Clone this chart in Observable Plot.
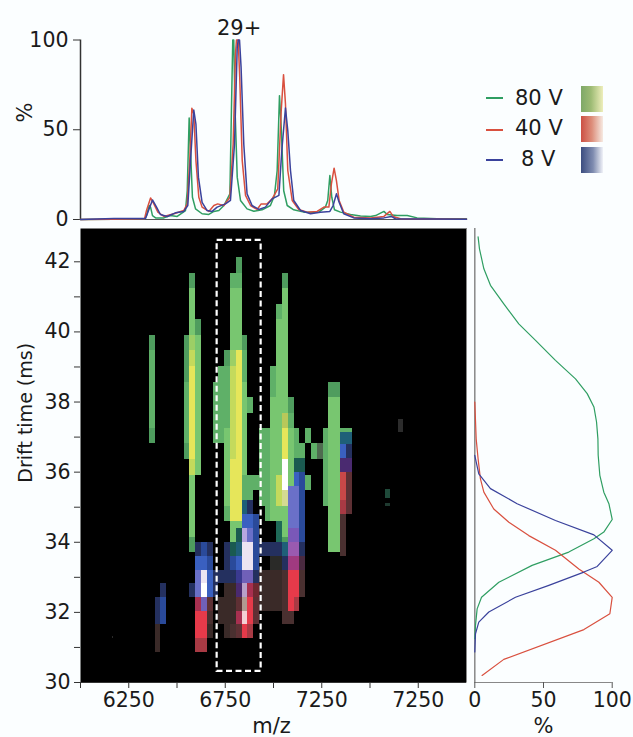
<!DOCTYPE html>
<html>
<head>
<meta charset="utf-8">
<script src="https://cdn.jsdelivr.net/npm/d3@7"></script>
<script src="https://cdn.jsdelivr.net/npm/@observablehq/plot@0.6"></script>
<style>
html,body{margin:0;padding:0;background:#fbfeff;}
#fig{position:relative;width:633px;height:737px;overflow:hidden;font-family:"DejaVu Sans",sans-serif;color:#1a1a1a;}
#fig svg{position:absolute;overflow:visible;}
.lg{position:absolute;font-size:21px;line-height:24px;white-space:nowrap;}
.ln{position:absolute;height:2px;width:17px;}
.sw{position:absolute;width:22px;height:26px;}
</style>
</head>
<body>
<div id="fig"></div>
<script>
// Spectrum traces: [m/z, %]
const spectrum80 = [[6000,0],[6173,.2],[6294,.4],[6332,.4],[6342,2.2],[6356,7.8],[6363,6.9],[6373,2.2],[6389,.9],[6432,.9],[6466,2.2],[6501,1.7],[6544,5],[6553,16],[6563,56.6],[6570,38.4],[6580,12.4],[6596,5.9],[6630,3.2],[6665,2.8],[6691,4.5],[6717,5],[6743,7.8],[6774,14.3],[6782,60.7],[6789,100],[6794,100],[6801,60.7],[6812,23.6],[6829,10.6],[6863,5.9],[6898,4.6],[6941,5.4],[6984,7.8],[7005,13.4],[7019,27.3],[7031,69],[7040,51.4],[7053,16],[7071,7.8],[7105,5.4],[7157,4.1],[7192,4.1],[7235,4.1],[7269,6.9],[7281,10.6],[7292,24.5],[7302,12.4],[7316,5.4],[7347,4.1],[7399,2.8],[7451,2],[7503,1.7],[7529,2.2],[7572,4.5],[7589,2.8],[7641,2.2],[7693,2.2],[7744,.9],[7848,.4],[8000,.4]];
const spectrum40 = [[6000,0],[6173,.2],[6332,.4],[6342,5],[6363,12],[6380,8.7],[6401,4.1],[6432,1.7],[6484,3.2],[6535,5],[6553,8.7],[6566,32.8],[6577,62],[6587,58.8],[6598,32.8],[6613,12.4],[6630,6.9],[6665,4.5],[6691,7.8],[6711,8.7],[6743,7.8],[6774,12.4],[6791,42.1],[6803,92.2],[6808,100],[6817,100],[6825,79.2],[6838,32.8],[6855,13.4],[6881,7.8],[6915,5.6],[6936,8.7],[6967,8.7],[6993,11.5],[7022,17.1],[7040,60.7],[7052,80.7],[7062,64.4],[7074,27.3],[7097,10.6],[7131,5.6],[7174,4.1],[7226,4.5],[7261,6.9],[7287,6.9],[7300,19.8],[7314,28.6],[7326,21.7],[7340,10.6],[7364,4.1],[7416,1.3],[7503,.9],[7572,1.7],[7603,4.5],[7620,1.7],[7658,.4],[8000,.2]];
const spectrum8 = [[6000,0],[6173,.6],[6294,.6],[6337,.6],[6349,4.1],[6373,10.9],[6394,6.9],[6414,2.8],[6449,1.7],[6492,3.7],[6535,4.5],[6556,7.8],[6570,32.8],[6587,61],[6598,53.2],[6611,23.6],[6630,9.6],[6656,5],[6682,4.5],[6708,6.9],[6751,8.7],[6777,10.6],[6798,42.1],[6812,95.9],[6817,100],[6824,100],[6832,84.8],[6846,42.1],[6863,14.3],[6889,7.8],[6924,5.6],[6958,6.9],[6993,11.5],[7028,13.4],[7043,38.4],[7062,62.1],[7074,49.5],[7088,27.3],[7105,10.6],[7140,5],[7192,3.2],[7243,4.1],[7292,4.5],[7309,7.8],[7326,14.3],[7340,9.6],[7364,3.2],[7416,.9],[7503,.4],[7572,.9],[7610,1.7],[7632,.4],[8000,.2]];

// Drift-time profiles: [%, ms]
const drift80 = [[2.4,42.71],[3.4,42.37],[6.6,41.8],[11.4,41.33],[21.1,40.8],[32,40.23],[44.2,39.76],[58.7,39.19],[73.3,38.66],[81.8,38.24],[86.7,37.86],[88.6,37.43],[89.6,36.95],[89.8,36.48],[91,35.91],[93.9,35.43],[97.6,35.1],[100,34.65],[93.9,34.29],[86.7,34.1],[68.4,33.72],[41.7,33.34],[17.5,32.86],[4.9,32.43],[1.7,32.1],[.5,31.63],[0,31.25]];
const drift40 = [[0,38],[1,36.95],[2.4,36.38],[4.1,35.81],[6.6,35.43],[13.8,34.95],[24.8,34.57],[39.3,34.19],[58.7,33.77],[75.7,33.24],[90.3,32.86],[100,32.43],[98.3,31.96],[79.4,31.51],[21.1,30.66],[5.3,30.2]];
const drift8 = [[0,36.48],[1,36.29],[2.9,35.95],[11.4,35.53],[30.8,35.1],[58.7,34.62],[86.7,34.21],[100,33.77],[89.1,33.31],[79.4,33.15],[53.9,32.77],[29.6,32.43],[10.2,32.01],[2.9,31.72],[.5,31.39],[0,30.87]];

// Heat map grid: m/z bins are 30 wide; drift bins differ between the two layers
const firstBin = 6387, binWidth = 30;
const driftEdgesHigh = [42.12,41.68,41.23,40.78,40.35,39.9,39.47,39.02,38.57,38.12,37.68,37.25,36.81,36.35,35.9,35.47,35.02,34.59,34.15,33.71];
const driftEdgesLow = [37.13,36.79,36.39,35.99,35.59,35.19,34.79,34.39,34,33.59,33.2,32.82,32.43,32.03,31.65,31.25,30.86];

const colorsHigh = {d:"#4f9c5e",m:"#5fb068",l:"#78c670",g:"#9ccf66",y:"#c4da5c",Y:"#e6e65a",W:"#ffffff",n:"#1f6a58",u:"#b8c85a",e:"#d4da92",i:"#4f6b50"};
const colorsLow = {a:"#24305f",b:"#2a4a9a",c:"#3a60c0",e:"#6a70c8",f:"#b8a8e0",w:"#ece4f2",W:"#ffffff",p:"#7060b8",g:"#7a58b8",q:"#9a5ab0",v:"#4a2a70",j:"#3a3a90",t:"#1f5f78",n:"#1a5a50",M:"#a03a80",r:"#e63a4a",T:"#c84848",S:"#a83050",s:"#a83a44",O:"#702830",o:"#5e3034",h:"#4a3030",i:"#3a2a28",D:"#4a2a40",x:"#b09a90",P:"#f4d0d4",k:"#b8a0c8",z:"#2a2a28"};

// [bin, first row, colour keys from the top down]
const columnsHigh = [[-1,5,"dmmmmmd"],[5,5,"dddmmmmd"],[6,1,"dlllgyYYYYYYylllld"],[7,4,"dlllllllll"],[10,8,"mmmm"],[11,7,"mmmmm"],[12,6,"dmmmmlllllm"],[13,1,"mllllgyyyyyyYYYYll"],[14,0,"dmllllYYYYYYYYYYYld"],[15,5,"dmmllllllmm"],[16,9,"m"],[16,14,"mm"],[17,14,"m"],[18,11,"mmmmm"],[19,11,"mmmmmm"],[20,7,"mmllllllll"],[21,3,"mllllllllllyylnn"],[22,1,"dlllllllluYYWWelld"],[23,9,"dmllll"],[24,11,"mmm"],[25,12,"mmn"],[26,11,"m"],[26,14,"m"],[27,12,"m"],[28,12,"i"],[29,11,"mmmmm"],[30,8,"dllllllllll"],[31,8,"dllllllllll"],[32,11,"m"],[33,11,"m"]];
const columnsLow = [[0,12,"aaii"],[1,11,"abb"],[6,11,"a"],[7,8,"aceeSrrs"],[8,8,"bcwWprrs"],[9,8,"abccohi"],[10,10,"aa"],[11,10,"a.ii"],[12,8,"aaaiiii"],[13,8,"nbaiiih"],[14,7,"ntcjvoSo"],[15,5,"tcfwwpkxPr"],[16,5,"acewwpSrrs"],[17,6,"bbbbaOoo"],[18,8,"a.iii"],[19,8,"a.iii"],[20,8,"aziii"],[21,8,"aziii"],[22,8,"tahhhh"],[23,4,"eeegqMrrrh"],[24,2,"nceeegqMrrs"],[25,2,"nbbbbbaDhh"],[32,0,"tcvTTshhh"],[33,0,"tavooo"]];
// Isolated faint cells: [m/z from, m/z to, drift from, drift to, colour]
const faintCells = [[7647,7672,37.14,37.5,"#2c2c2c"],[7582,7608,35.25,35.5,"#1f4a3a"],[7582,7608,35.02,35.1,"#1f3a30"],[6165,6172,31.25,31.3,"#2a2a2a"]];

const highlight = [{mz1:6708,mz2:6936,d1:30.32,d2:42.61}];

const mzTicks = [6000,6250,6500,6750,7000,7250,7500,7750];
const mzLabels = {6250:"6250",6750:"6750",7250:"7250",7750:"7250"};
const driftTicks = [30,31,32,33,34,35,36,37,38,39,40,41,42];

const seriesColor = {v80:"#2f9e62",v40:"#d9503f",v8:"#3a429c"};
const legendItems = [
  {label:"80 V",color:seriesColor.v80,grad:"linear-gradient(to right,#7ea868,#9dbb74 45%,#eeeebb)",y:85.5,lineY:97,labelX:515},
  {label:"40 V",color:seriesColor.v40,grad:"linear-gradient(to right,#cc5044,#dd8f7c 50%,#f6eae2)",y:116,lineY:129,labelX:515},
  {label:"8 V",color:seriesColor.v8,grad:"linear-gradient(to right,#3b4d80,#7f8cb0 55%,#f0f2f8)",y:147,lineY:159,labelX:521}
];

function buildCells(cols, edges, pal){
  const out=[];
  for(const [bin,start,keys] of cols){
    [...keys].forEach((k,i)=>{
      if(k==="."||!pal[k]) return;
      out.push({x1:firstBin+bin*binWidth,x2:firstBin+(bin+1)*binWidth,y1:edges[start+i],y2:edges[start+i+1],fill:pal[k]});
    });
  }
  return out;
}
const cellsHigh = buildCells(columnsHigh,driftEdgesHigh,colorsHigh);
const cellsLow = buildCells(columnsLow,driftEdgesLow,colorsLow);
const cellsFaint = faintCells.map(([x1,x2,y1,y2,fill])=>({x1,x2,y1,y2,fill}));

const axisColor="#333";
const fs=20.5;
const fig=document.getElementById("fig");
function place(svg,l,t){svg.style.left=l+"px";svg.style.top=t+"px";fig.appendChild(svg);}

const topPlot = Plot.plot({
  width:480,height:225,marginLeft:80,marginRight:14,marginTop:39.5,marginBottom:6,
  style:{background:"transparent",fontFamily:"DejaVu Sans",fontSize:fs+"px",color:"#1a1a1a"},
  x:{domain:[6000,8000],axis:null},
  y:{domain:[0,100]},
  marks:[
    Plot.ruleY([0],{stroke:"#555",strokeWidth:1.2}),
    Plot.ruleX([6000],{stroke:axisColor,strokeWidth:1.5}),
    Plot.axisY({ticks:[0,50,100],tickSize:7,tickPadding:5,fontSize:fs,label:null,stroke:axisColor}),
    Plot.text(["%"],{frameAnchor:"left",y:[54],dx:-55,rotate:-90,fontSize:21,fill:"#1a1a1a"}),
    Plot.line(spectrum80,{x:d=>d[0],y:d=>d[1],stroke:seriesColor.v80,strokeWidth:1.5}),
    Plot.line(spectrum40,{x:d=>d[0],y:d=>d[1],stroke:seriesColor.v40,strokeWidth:1.5}),
    Plot.line(spectrum8,{x:d=>d[0],y:d=>d[1],stroke:seriesColor.v8,strokeWidth:1.5}),
    Plot.text(["29+"],{x:[6822],y:[106.8],fontSize:21,fill:"#1a1a1a"})
  ]
});
place(topPlot,0,0);

const heat = Plot.plot({
  width:480,height:512,marginLeft:80,marginRight:14,marginTop:3,marginBottom:55,
  style:{background:"transparent",fontFamily:"DejaVu Sans",fontSize:fs+"px",color:"#1a1a1a"},
  x:{domain:[6000,8000]},
  y:{domain:[30,42.95]},
  color:{type:"identity"},
  marks:[
    Plot.frame({fill:"#000",stroke:"none"}),
    Plot.rect(cellsHigh,{x1:"x1",x2:"x2",y1:"y1",y2:"y2",fill:"fill",shapeRendering:"crispEdges"}),
    Plot.rect(cellsLow,{x1:"x1",x2:"x2",y1:"y1",y2:"y2",fill:"fill",shapeRendering:"crispEdges"}),
    Plot.rect(cellsFaint,{x1:"x1",x2:"x2",y1:"y1",y2:"y2",fill:"fill",shapeRendering:"crispEdges"}),
    Plot.rect(highlight,{x1:"mz1",x2:"mz2",y1:"d1",y2:"d2",fill:"none",stroke:"#fff",strokeWidth:2.2,strokeDasharray:"6,3.5"}),
    Plot.ruleX([8000],{stroke:"#888",strokeWidth:1}),
    Plot.ruleY([30],{stroke:axisColor,strokeWidth:1.2}),
    Plot.axisX({ticks:mzTicks,tickFormat:d=>mzLabels[d]||"",tickSize:6,tickPadding:4,fontSize:fs,label:null,stroke:axisColor}),
    Plot.text(["m/z"],{x:[6990],frameAnchor:"bottom",dy:50,fontSize:21,fill:"#1a1a1a"}),
    Plot.axisY({ticks:driftTicks,tickFormat:d=>d%2===0?String(d):"",tickSize:6,tickPadding:4,fontSize:fs,label:null,stroke:axisColor}),
    Plot.text(["Drift time (ms)"],{frameAnchor:"left",y:[35.7],dx:-55,rotate:-90,fontSize:19,fill:"#1a1a1a"})
  ]
});
place(heat,0,225);

const side = Plot.plot({
  width:173,height:512,marginLeft:14.3,marginRight:21.3,marginTop:3,marginBottom:55,
  style:{background:"transparent",fontFamily:"DejaVu Sans",fontSize:fs+"px",color:"#1a1a1a"},
  x:{domain:[0,100]},
  y:{domain:[30,42.95],axis:null},
  marks:[
    Plot.ruleX([0],{stroke:"#888",strokeWidth:1.5}),
    Plot.ruleY([30],{stroke:"#888",strokeWidth:1.2}),
    Plot.axisX({ticks:[0,50,100],tickSize:6,tickPadding:4,fontSize:fs,label:null,stroke:"#555"}),
    Plot.text(["%"],{x:[50],frameAnchor:"bottom",dy:50,fontSize:21,fill:"#1a1a1a"}),
    Plot.line(drift80,{x:d=>d[0],y:d=>d[1],stroke:seriesColor.v80,strokeWidth:1.2}),
    Plot.line(drift40,{x:d=>d[0],y:d=>d[1],stroke:seriesColor.v40,strokeWidth:1.2}),
    Plot.line(drift8,{x:d=>d[0],y:d=>d[1],stroke:seriesColor.v8,strokeWidth:1.2})
  ]
});
place(side,460,225);

for(const it of legendItems){
  const ln=document.createElement("div");ln.className="ln";
  ln.style.cssText+=`left:486px;top:${it.lineY}px;background:${it.color};`;
  fig.appendChild(ln);
  const t=document.createElement("div");t.className="lg";t.textContent=it.label;
  t.style.cssText+=`left:${it.labelX}px;top:${it.y}px;`;
  fig.appendChild(t);
  const s=document.createElement("div");s.className="sw";
  s.style.cssText+=`left:581px;top:${it.y}px;background:${it.grad};`;
  fig.appendChild(s);
}
</script>
</body>
</html>
